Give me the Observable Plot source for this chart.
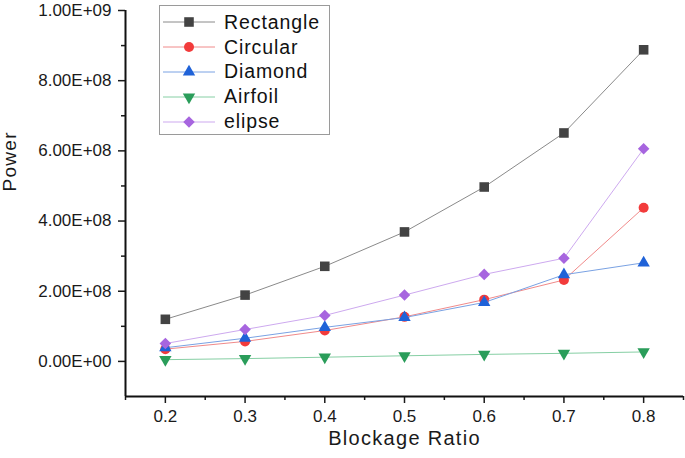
<!DOCTYPE html>
<html>
<head>
<meta charset="utf-8">
<script src="https://cdn.jsdelivr.net/npm/d3@7"></script>
<script src="https://cdn.jsdelivr.net/npm/@observablehq/plot@0.6"></script>
<style>
  body { margin: 0; background: #fff; }
  #chart { position: relative; width: 685px; height: 458px; font-family: "Liberation Sans", Arial, sans-serif; }
  #legend { position: absolute; left: 159px; top: 5px; width: 171px; height: 130px; border: 1px solid #9a9a9a; background: #fff; box-sizing: border-box; padding-top: 4px; }
  .row { display: flex; align-items: center; height: 24.8px; }
  .row span { font-size: 19.5px; letter-spacing: 0.9px; color: #111; margin-left: 3px; }
</style>
</head>
<body>
<div id="chart"></div>
<script>
// blockage ratio (x) and power for each shape
const ratio = [0.2, 0.3, 0.4, 0.5, 0.6, 0.7, 0.8]
const rectangle = [1.20e8, 1.89e8, 2.71e8, 3.69e8, 4.97e8, 6.51e8, 8.88e8]
const circular = [3.5e7, 5.7e7, 8.8e7, 1.27e8, 1.76e8, 2.32e8, 4.38e8]
const diamond = [3.9e7, 6.6e7, 9.7e7, 1.25e8, 1.68e8, 2.47e8, 2.81e8]
const airfoil = [0.5e7, 0.8e7, 1.2e7, 1.6e7, 2.0e7, 2.3e7, 2.7e7]
const elipse = [5.1e7, 9.1e7, 1.31e8, 1.89e8, 2.48e8, 2.94e8, 6.06e8]

const xTicks = [0.2, 0.3, 0.4, 0.5, 0.6, 0.7, 0.8]
const xMinor = [0.15, 0.25, 0.35, 0.45, 0.55, 0.65, 0.75, 0.85]
const yTicks = [0, 2e8, 4e8, 6e8, 8e8, 1e9]
const yMinor = [1e8, 3e8, 5e8, 7e8, 9e8]

const series = [
  {name: "Rectangle", values: rectangle, line: "#8a8a8a", fill: "#434343", symbol: "square", r: 5.4, rotate: 0},
  {name: "Circular", values: circular, line: "#f08a8a", fill: "#f23b3b", symbol: "circle", r: 5, rotate: 0},
  {name: "Diamond", values: diamond, line: "#7aa2e3", fill: "#1f62d8", symbol: "triangle", r: 4.6, rotate: 0},
  {name: "Airfoil", values: airfoil, line: "#86cfa4", fill: "#2a9d5a", symbol: "triangle", r: 4.6, rotate: 180},
  {name: "elipse", values: elipse, line: "#cda9ef", fill: "#a765df", symbol: "diamond2", r: 5.2, rotate: 0}
]

// 1.00E+09 style labels
const sci = d => {
  let [m, e] = d.toExponential(2).split("e")
  let sign = e[0] == "-" ? "-" : "+"
  e = e.replace(/[+-]/, "").padStart(2, "0")
  return m + "E" + sign + e
}

let marks = [
  Plot.axisX(xTicks, {tickSize: 7, tickPadding: 6, strokeWidth: 1.5, label: null, tickFormat: d => d.toFixed(1)}),
  Plot.axisX(xMinor, {tickSize: 4, strokeWidth: 1.5, label: null, tickFormat: () => ""}),
  Plot.axisY(yTicks, {tickSize: 7, tickPadding: 7, strokeWidth: 1.5, label: null, tickFormat: sci}),
  Plot.axisY(yMinor, {tickSize: 4, strokeWidth: 1.5, label: null, tickFormat: () => ""}),
  Plot.ruleX([0.15], {strokeWidth: 2, stroke: "#111"}),
  Plot.ruleY([-1e8], {strokeWidth: 2, stroke: "#111"}),
  Plot.text(["Blockage Ratio"], {frameAnchor: "bottom", dy: 48, fontSize: 20}),
  Plot.text(["Power"], {frameAnchor: "left", dx: -116, dy: -12, rotate: -90, fontSize: 19})
]

series.forEach(s => {
  const rows = ratio.map((x, i) => ({x, y: s.values[i]}))
  marks.push(Plot.line(rows, {x: "x", y: "y", stroke: s.line, strokeWidth: 1}))
  marks.push(Plot.dot(rows, {x: "x", y: "y", symbol: s.symbol, r: s.r, fill: s.fill, stroke: "none", rotate: s.rotate}))
})

let chart = Plot.plot({
  width: 685,
  height: 458,
  marginLeft: 125,
  marginRight: 2,
  marginTop: 10,
  marginBottom: 62,
  x: {domain: [0.15, 0.85]},
  y: {domain: [-1e8, 1e9]},
  style: {fontFamily: "'Liberation Sans', Arial, sans-serif", color: "#1a1a1a", background: "white"},
  marks
})

// tick labels a bit larger, axis titles slightly spaced like the original
d3.select(chart).selectAll("text")
  .filter(function () { return /E\+|^0\.\d$/.test(this.textContent) })
  .style("font-size", "17px")
d3.select(chart).selectAll("text")
  .filter(function () { return this.textContent == "Blockage Ratio" || this.textContent == "Power" })
  .attr("letter-spacing", "1.3px")

const root = d3.select("#chart")
root.append(() => chart)

// legend box, drawn in the page over the plot
const legend = root.append("div").attr("id", "legend")
series.forEach(s => {
  const row = legend.append("div").attr("class", "row")
  const svg = row.append("svg").attr("width", 58).attr("height", 20).style("margin-left", "3px")
  svg.append("line").attr("x1", 0).attr("x2", 52).attr("y1", 10).attr("y2", 10)
    .attr("stroke", s.line).attr("stroke-width", 1)
  const sym = {square: d3.symbolSquare, circle: d3.symbolCircle, triangle: d3.symbolTriangle, diamond2: d3.symbolDiamond2}[s.symbol]
  svg.append("path")
    .attr("d", d3.symbol(sym, s.r * s.r * Math.PI)())
    .attr("transform", `translate(26,10) rotate(${s.rotate})`)
    .attr("fill", s.fill)
  row.append("span").text(s.name)
})
</script>
</body>
</html>
